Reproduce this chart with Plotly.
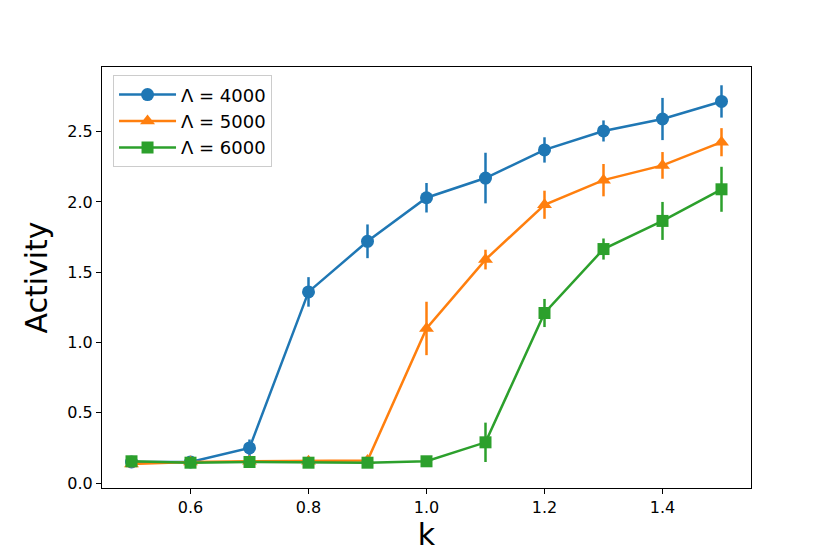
import plotly.graph_objects as go

k = [0.5, 0.6, 0.7, 0.8, 0.9, 1.0, 1.1, 1.2, 1.3, 1.4, 1.5]

act_4000 = [0.15, 0.15, 0.25, 1.36, 1.72, 2.03, 2.17, 2.37, 2.505, 2.59, 2.715]
err_4000 = [0.01, 0.01, 0.06, 0.105, 0.12, 0.105, 0.18, 0.09, 0.075, 0.15, 0.115]

act_5000 = [0.135, 0.15, 0.155, 0.155, 0.16, 1.10, 1.59, 1.98, 2.155, 2.26, 2.425]
err_5000 = [0.01, 0.01, 0.01, 0.02, 0.01, 0.19, 0.07, 0.10, 0.115, 0.095, 0.10]

act_6000 = [0.155, 0.145, 0.15, 0.145, 0.145, 0.155, 0.29, 1.21, 1.665, 1.865, 2.09]
err_6000 = [0.01, 0.01, 0.01, 0.01, 0.01, 0.01, 0.14, 0.10, 0.075, 0.135, 0.16]

series = [
    ("Λ = 4000", act_4000, err_4000, "#1f77b4", "circle", 13),
    ("Λ = 5000", act_5000, err_5000, "#ff7f0e", "triangle-up", 13),
    ("Λ = 6000", act_6000, err_6000, "#2ca02c", "square", 12),
]

x_ticks = [0.6, 0.8, 1.0, 1.2, 1.4]
y_ticks = [0.0, 0.5, 1.0, 1.5, 2.0, 2.5]

fig = go.Figure()
for name, y, e, c, sym, sz in series:
    fig.add_trace(go.Scatter(
        x=k, y=y, name=name, mode="lines+markers",
        line=dict(color=c, width=2.5),
        marker=dict(color=c, symbol=sym, size=sz),
        error_y=dict(type="data", array=e, visible=True, color=c, thickness=2.5, width=0),
    ))

axis_common = dict(
    showline=True, mirror=True, linecolor="black", linewidth=1,
    ticks="outside", ticklen=5, tickcolor="black", showgrid=False, zeroline=False,
    tickfont=dict(family="DejaVu Sans", size=16, color="black"),
)

fig.update_layout(
    width=822, height=546,
    margin=dict(l=94, r=79, t=59, b=66),
    paper_bgcolor="white", plot_bgcolor="white",
    font=dict(family="DejaVu Sans", color="black"),
    xaxis=dict(range=[0.45, 1.55], tickvals=x_ticks, tickformat=".1f",
               title=dict(text="k", font=dict(size=30), standoff=4), **axis_common),
    yaxis=dict(range=[-0.035, 2.96], tickvals=y_ticks, tickformat=".1f",
               title=dict(text="Activity", font=dict(size=30), standoff=10), **axis_common),
    legend=dict(x=0.017, y=0.98, xanchor="left", yanchor="top",
                bordercolor="#cccccc", borderwidth=1, bgcolor="rgba(255,255,255,0.8)",
                font=dict(size=18), tracegroupgap=0, itemwidth=57),
    showlegend=True,
)

fig.write_html("out.html")
